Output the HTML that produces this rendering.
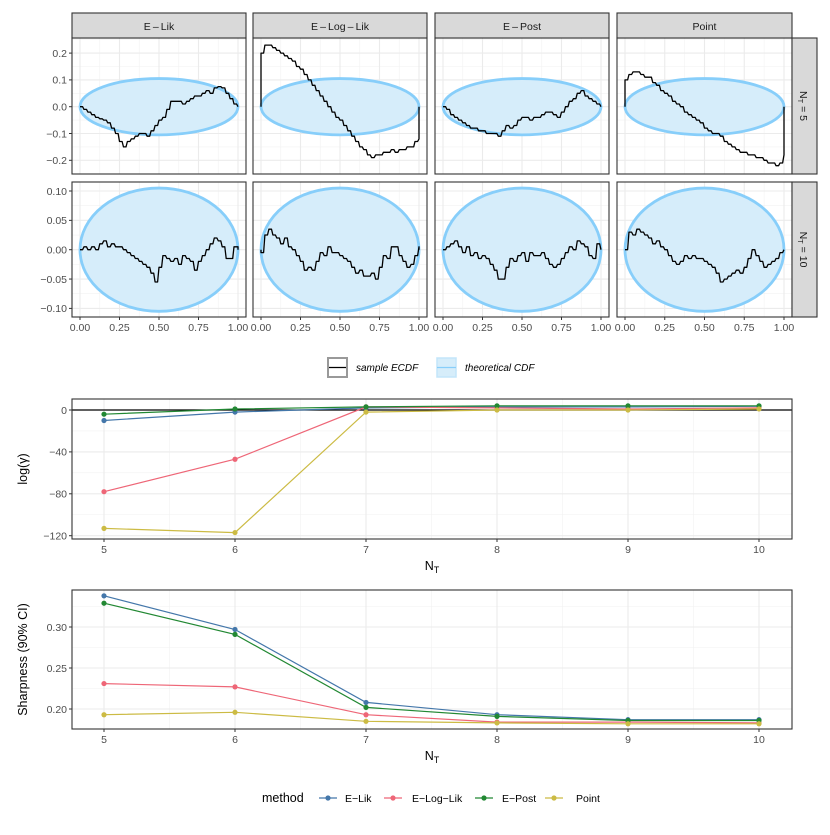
<!DOCTYPE html>
<html><head><meta charset="utf-8"><style>
html,body{margin:0;padding:0;background:#fff;}
svg text{font-family:"Liberation Sans",Arial,sans-serif;}
</style></head><body>
<svg id="c" width="830" height="830" viewBox="0 0 830 830" xmlns="http://www.w3.org/2000/svg"></svg>
<script>
const methods = ["E-Lik","E-Log-Lik","E-Post","Point"];
const stripLabels = ["E\u2009\u2013\u2009Lik","E\u2009\u2013\u2009Log\u2009\u2013\u2009Lik","E\u2009\u2013\u2009Post","Point"];
const colors = ["#4477AA","#EE6677","#228833","#CCBB44"];
const bandHalf = [0.105, 0.105];
const ecdf5 = [
[0,-0.01,-0.02,-0.03,-0.04,-0.045,-0.05,-0.06,-0.08,-0.1,-0.13,-0.15,-0.13,-0.12,-0.11,-0.10,-0.10,-0.11,-0.09,-0.07,-0.05,-0.04,-0.01,0.02,0.02,0.02,0.01,0.02,0.03,0.04,0.04,0.05,0.06,0.05,0.07,0.075,0.07,0.05,0.03,0.01,0],
[0.2,0.23,0.23,0.22,0.21,0.2,0.19,0.18,0.17,0.15,0.14,0.12,0.10,0.08,0.06,0.04,0.02,0.0,-0.02,-0.04,-0.05,-0.07,-0.09,-0.11,-0.13,-0.15,-0.16,-0.18,-0.19,-0.18,-0.18,-0.17,-0.17,-0.16,-0.17,-0.16,-0.16,-0.15,-0.15,-0.13,-0.12],
[0,-0.01,-0.03,-0.04,-0.05,-0.06,-0.07,-0.08,-0.08,-0.09,-0.09,-0.10,-0.10,-0.10,-0.11,-0.09,-0.07,-0.08,-0.07,-0.05,-0.04,-0.04,-0.05,-0.04,-0.04,-0.03,-0.02,-0.02,-0.03,-0.04,-0.02,0.0,0.02,0.03,0.05,0.06,0.04,0.03,0.02,0.01,0],
[0.10,0.12,0.13,0.13,0.12,0.11,0.11,0.09,0.08,0.06,0.05,0.04,0.02,0.01,0.0,-0.02,-0.03,-0.04,-0.05,-0.06,-0.08,-0.09,-0.10,-0.10,-0.11,-0.13,-0.14,-0.15,-0.16,-0.17,-0.17,-0.18,-0.18,-0.19,-0.19,-0.20,-0.21,-0.21,-0.22,-0.21,-0.18]
];
const ecdf10 = [
[0,0.005,0,0.005,0,0.01,0.015,0.005,0.01,0.005,0.005,0,-0.005,-0.01,-0.015,-0.02,-0.025,-0.03,-0.04,-0.055,-0.03,-0.01,-0.015,-0.02,-0.015,-0.025,-0.01,-0.015,-0.02,-0.035,-0.02,-0.01,0.0,0.01,0.02,0.015,0.005,-0.015,-0.015,0.005,0.005],
[-0.005,0.025,0.035,0.025,0.02,0.01,0.02,0.005,0.0,-0.01,-0.02,-0.035,-0.03,-0.035,-0.02,-0.005,-0.01,0.005,-0.005,-0.005,-0.01,-0.015,-0.02,-0.03,-0.04,-0.035,-0.045,-0.045,-0.04,-0.05,-0.03,-0.01,-0.015,0.005,0.005,-0.01,-0.02,-0.03,-0.025,-0.01,0.005],
[0,0.005,0.01,0.015,0.005,-0.005,0.005,-0.01,-0.005,-0.015,-0.01,-0.015,-0.025,-0.035,-0.05,-0.05,-0.03,-0.015,-0.02,-0.01,-0.005,-0.02,-0.005,-0.01,-0.01,-0.005,-0.015,-0.025,-0.03,-0.025,-0.015,-0.005,0.005,0.0,0.015,0.01,0.005,-0.01,-0.015,0.01,0.0],
[0.0,0.03,0.025,0.035,0.03,0.025,0.02,0.01,0.015,0.005,0.0,-0.01,-0.02,-0.025,-0.02,-0.01,-0.015,-0.01,-0.015,-0.015,-0.02,-0.025,-0.03,-0.04,-0.055,-0.05,-0.045,-0.04,-0.035,-0.04,-0.03,-0.015,0.0,-0.01,-0.02,-0.03,-0.025,-0.02,-0.015,-0.005,0.0]
];
const nT = [5,6,7,8,9,10];
const logGamma = [
[-10,-2,2,3,3,3.5],
[-78,-47,3,2,1,2],
[-4,1,3,4,4,4],
[-113,-117,-2,0,0,1]
];
const sharp = [
[0.338,0.297,0.208,0.193,0.187,0.187],
[0.231,0.227,0.193,0.184,0.184,0.183],
[0.329,0.291,0.202,0.191,0.186,0.186],
[0.193,0.196,0.185,0.183,0.182,0.182]
];
const xTicksTop = ["0.00","0.25","0.50","0.75","1.00"];
const yTicks5 = [0.2,0.1,0,-0.1,-0.2];
const yTicks10 = [0.10,0.05,0,-0.05,-0.10];
const yTicksG = [0,-40,-80,-120];
const yTicksS = [0.20,0.25,0.30];

const svg = document.getElementById('c');
const NS = "http://www.w3.org/2000/svg";
function el(tag, attrs, parent){const e=document.createElementNS(NS,tag);for(const k in attrs)e.setAttribute(k,attrs[k]);(parent||svg).appendChild(e);return e;}
function txt(s, attrs, parent){const e=el('text',attrs,parent);e.textContent=s;return e;}
function fmt(v,d){let s=v.toFixed(d);return s.replace('-','\u2212');}

const colX = [[72,246],[253,427],[435,609],[617,792]];
const rows = [
 {top:38,bot:174,zero:106.7,scale:268,ticks:yTicks5,dec:1,major:0.1,lim:0.26,data:ecdf5,label:"5"},
 {top:182,bot:317,zero:249.7,scale:587,ticks:yTicks10,dec:2,major:0.05,lim:0.12,data:ecdf10,label:"10"}
];
rows.forEach((r,ri)=>{
 const yS = v=> r.zero - v*r.scale;
 colX.forEach((c,ci)=>{
  const g = el('g',{});
  
  
  const xS = v=> c[0]+8 + v*(c[1]-c[0]-16);
  el('rect',{x:c[0],y:r.top,width:c[1]-c[0],height:r.bot-r.top,fill:'#fff'},g);
  for(let k=0;k<=8;k++){ if(k%2) el('line',{x1:xS(k/8),x2:xS(k/8),y1:r.top,y2:r.bot,stroke:'#F2F2F2','stroke-width':0.6},g);}
  for(let v=-r.lim;v<=r.lim;v+=r.major/2){const vv=Math.round(v/(r.major/2)); if(Math.abs(vv)%2===1){const y=yS(vv*r.major/2); if(y>r.top&&y<r.bot) el('line',{x1:c[0],x2:c[1],y1:y,y2:y,stroke:'#F2F2F2','stroke-width':0.6},g);}}
  for(let k=0;k<=4;k++) el('line',{x1:xS(k/4),x2:xS(k/4),y1:r.top,y2:r.bot,stroke:'#EBEBEB','stroke-width':1.1},g);
  r.ticks.forEach(v=>el('line',{x1:c[0],x2:c[1],y1:yS(v),y2:yS(v),stroke:'#EBEBEB','stroke-width':1.1},g));
  const band = el('ellipse',{cx:xS(0.5),cy:yS(0),rx:xS(1)-xS(0.5),ry:bandHalf[ri]*r.scale,fill:'#D6EDFA',stroke:'#87CEFA','stroke-width':2.8},g);
  
  
  const d = r.data[ci]; const n=d.length-1;
  let p = 'M'+xS(0)+','+yS(0)+' L'+xS(0)+','+yS(d[0]);
  for(let i=1;i<=n;i++){ const xm=xS((i-0.35)/n); p+=' L'+xm.toFixed(1)+','+yS(d[i-1]).toFixed(1)+' L'+xS(i/n).toFixed(1)+','+yS(d[i]).toFixed(1);}
  p+=' L'+xS(1)+','+yS(0);
  const path = el('path',{d:p,fill:'none',stroke:'#000','stroke-width':1.3,'stroke-linejoin':'round'},g);
  
  
  el('rect',{x:c[0],y:r.top,width:c[1]-c[0],height:r.bot-r.top,fill:'none',stroke:'#333','stroke-width':1.1},g);
  if(ri===0){
   el('rect',{x:c[0],y:13,width:c[1]-c[0],height:25,fill:'#D9D9D9',stroke:'#333','stroke-width':1.1},g);
   const st = txt(stripLabels[ci],{x:(c[0]+c[1])/2,y:30,'text-anchor':'middle','font-size':10.5,fill:'#1A1A1A'},g);
   
   
  }
  if(ci===0){
   r.ticks.forEach(v=>{el('line',{x1:c[0]-3,x2:c[0],y1:yS(v),y2:yS(v),stroke:'#333'},g);
    const t=txt(fmt(v,r.dec),{x:c[0]-5,y:yS(v)+3.8,'text-anchor':'end','font-size':10.5,fill:'#4D4D4D'},g);
    
    });
  }
  if(ri===1){
   xTicksTop.forEach((s,k)=>{el('line',{x1:xS(k/4),x2:xS(k/4),y1:r.bot,y2:r.bot+3,stroke:'#333'},g);
    const t=txt(s,{x:xS(k/4),y:r.bot+14,'text-anchor':'middle','font-size':10.5,fill:'#4D4D4D'},g);
    
    });
  }
 });
 el('rect',{x:792,y:r.top,width:25,height:r.bot-r.top,fill:'#D9D9D9',stroke:'#333','stroke-width':1.1});
 const rs = el('text',{transform:'translate(800,'+((r.top+r.bot)/2)+') rotate(90)','text-anchor':'middle','font-size':10.5,fill:'#1A1A1A'});
 rs.innerHTML = 'N<tspan font-size="7.5" dy="2">T</tspan><tspan dy="-2"> = '+r.label+'</tspan>';
 
 
});

const lg = el('g',{});


el('rect',{x:328,y:358,width:19,height:19,fill:'#fff',stroke:'#999','stroke-width':2},lg);
el('line',{x1:329,x2:346,y1:367.5,y2:367.5,stroke:'#000','stroke-width':1.3},lg);
txt('sample ECDF',{x:356,y:371,'font-size':10,'font-style':'italic',fill:'#000'},lg);
el('rect',{x:437,y:358,width:19,height:19,fill:'#D6EDFA',stroke:'#C3E5FA','stroke-width':1.5},lg);
el('line',{x1:437,x2:456,y1:367.5,y2:367.5,stroke:'#87CEFA','stroke-width':1.3},lg);
txt('theoretical CDF',{x:465,y:371,'font-size':10,'font-style':'italic',fill:'#000'},lg);

function lineChart(cfg){
 const g = el('g',{});
 
 
 const L=72,R=792,T=cfg.top,B=cfg.bot;
 const xS = v=> 104 + (v-5)*131;
 const yS = cfg.yS;
 el('rect',{x:L,y:T,width:R-L,height:B-T,fill:'#fff'},g);
 nT.forEach((v,i)=>{ if(i<5) el('line',{x1:xS(v+0.5),x2:xS(v+0.5),y1:T,y2:B,stroke:'#F2F2F2','stroke-width':0.6},g);});
 cfg.minor.forEach(v=>el('line',{x1:L,x2:R,y1:yS(v),y2:yS(v),stroke:'#F2F2F2','stroke-width':0.6},g));
 nT.forEach(v=>el('line',{x1:xS(v),x2:xS(v),y1:T,y2:B,stroke:'#EBEBEB','stroke-width':1.1},g));
 cfg.ticks.forEach(v=>el('line',{x1:L,x2:R,y1:yS(v),y2:yS(v),stroke:'#EBEBEB','stroke-width':1.1},g));
 if(cfg.hline!==undefined){const h=el('line',{x1:L,x2:R,y1:yS(cfg.hline),y2:yS(cfg.hline),stroke:'#000','stroke-width':1.2},g);
  
  }
 cfg.data.forEach((s,mi)=>{
  const pts = s.map((v,i)=>xS(nT[i]).toFixed(1)+','+yS(v).toFixed(1)).join(' ');
  const pl = el('polyline',{points:pts,fill:'none',stroke:colors[mi],'stroke-width':1.2},g);
  
  
  s.forEach((v,i)=>{const c=el('circle',{cx:xS(nT[i]),cy:yS(v),r:2.6,fill:colors[mi]},g);
   
   });
 });
 el('rect',{x:L,y:T,width:R-L,height:B-T,fill:'none',stroke:'#333','stroke-width':1.1},g);
 cfg.ticks.forEach(v=>{el('line',{x1:L-3,x2:L,y1:yS(v),y2:yS(v),stroke:'#333'},g);
  const t=txt(fmt(v,cfg.dec),{x:L-5,y:yS(v)+3.8,'text-anchor':'end','font-size':10.5,fill:'#4D4D4D'},g);
  
  });
 nT.forEach(v=>{el('line',{x1:xS(v),x2:xS(v),y1:B,y2:B+3,stroke:'#333'},g);
  const t=txt(String(v),{x:xS(v),y:B+14,'text-anchor':'middle','font-size':10.5,fill:'#4D4D4D'},g);
  
  });
 const xt = el('text',{x:432,y:B+31,'text-anchor':'middle','font-size':12.5,fill:'#000'},g);
 xt.innerHTML='N<tspan font-size="9" dy="3">T</tspan>';
 
 
 const yt = el('text',{transform:'translate(27,'+((T+B)/2)+') rotate(-90)','text-anchor':'middle','font-size':12.5,fill:'#000'},g);
 yt.textContent = cfg.ytitle;
 
 
}
lineChart({name:'log-gamma-chart',top:399,bot:539,yS:v=>410-v*(125.7/120),ticks:yTicksG,minor:[-20,-60,-100],dec:0,hline:0,data:logGamma,ytitle:'log(\u03B3)'});
lineChart({name:'sharpness-chart',top:590,bot:729,yS:v=>709-(v-0.2)*820,ticks:yTicksS,minor:[0.225,0.275,0.325],dec:2,data:sharp,ytitle:'Sharpness (90% CI)'});

const ml = el('g',{});


txt('method',{x:262,y:802,'font-size':12.5,fill:'#000'},ml);
const keyX=[319,384,475,545], labX=[345,412,502,576];
methods.forEach((m,i)=>{
 const k=el('g',{},ml);
 
 
 el('line',{x1:keyX[i],x2:keyX[i]+18,y1:798,y2:798,stroke:colors[i],'stroke-width':1.2},k);
 el('circle',{cx:keyX[i]+9,cy:798,r:2.6,fill:colors[i]},k);
 txt(m.replace(/-/g,'\u2212'),{x:labX[i],y:802,'font-size':10.5,fill:'#000'},k);
});
</script>
</body></html>
